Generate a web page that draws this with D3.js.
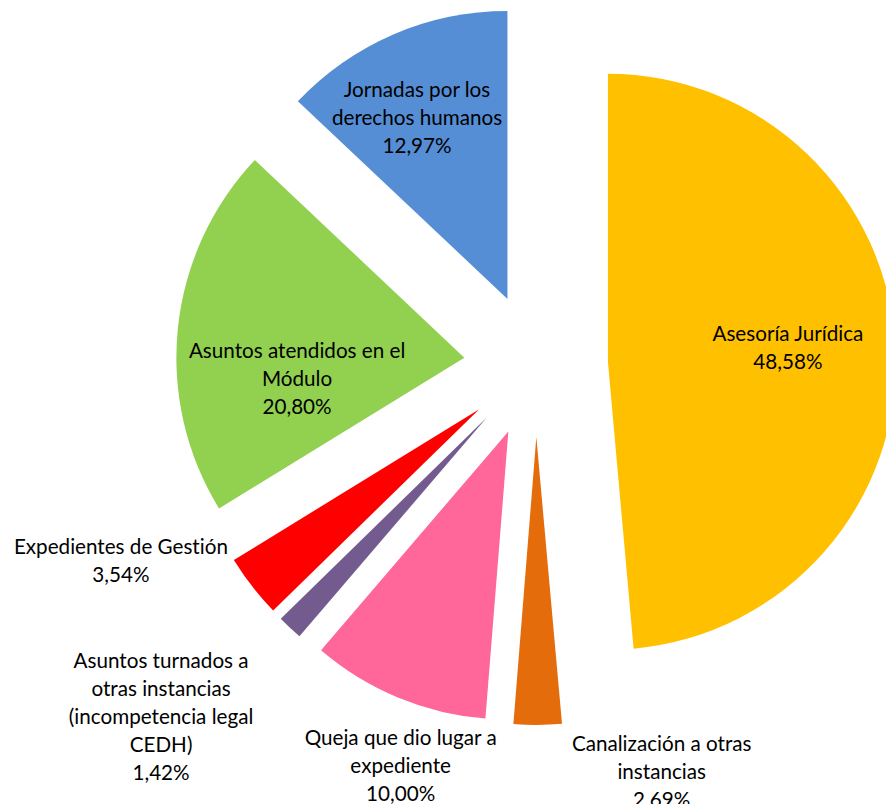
<!DOCTYPE html>
<html lang='es'>
  <head>
    <meta charset='utf-8'>
    <title>Servicios</title>
    <script type='text/javascript' src='https://cdn.jsdelivr.net/npm/d3@7/dist/d3.min.js'></script>
    <style type='text/css'>
      body { margin: 0; background: white; }
      svg { display: block; background-color: white; }
      .label {
        font-family: Lato, 'Open Sans', sans-serif;
        font-variant-ligatures: none;
        font-feature-settings: "liga" 0, "clig" 0;
        fill: #000;
      }
    </style>
  </head>
  <body>
    <div id='chart'></div>
    <script type='text/javascript'>

    // Data (clockwise from 12 o'clock)
    var categories = [
      'Asesoría Jurídica',
      'Canalización a otras\ninstancias',
      'Queja que dio lugar a\nexpediente',
      'Asuntos turnados a\notras instancias\n(incompetencia legal\nCEDH)',
      'Expedientes de Gestión',
      'Asuntos atendidos en el\nMódulo',
      'Jornadas por los\nderechos humanos'
    ];
    var values = [48.58, 2.69, 10.00, 1.42, 3.54, 20.80, 12.97];
    var valueLabels = ['48,58%', '2.69%', '10,00%', '1,42%', '3,54%', '20,80%', '12,97%'];
    var colors = ['#FFC000', '#E46C0A', '#FF6699', '#735B90', '#FF0000', '#92D050', '#558ED5'];

    // label placement relative to each exploded slice: [angle in degrees, radius factor]
    var labelAngle  = [85.3, 159.45, 197.9, 227.5, 247.25, 263.2, 333.5];
    var labelRadius = [0.627, 1.240, 1.217, 1.534, 1.349, 0.585, 0.704];

    // Dimensions
    var width = 886, height = 804;
    var cx = 536, cy = 365, radius = 288, explode = 72;
    var lineHeight = 28;

    var svg = d3.select('#chart')
        .append('svg')
        .attr('width', width)
        .attr('height', height);

    var g = svg.append('g')
        .attr('transform', 'translate(' + cx + ',' + cy + ')');

    var pie = d3.pie().sort(null).value(function(d) { return d; });
    var arcs = pie(values);

    var arc = d3.arc().innerRadius(0).outerRadius(radius);

    function offset(a, dist) {
      return [Math.sin(a) * dist, -Math.cos(a) * dist];
    }

    // slices
    g.selectAll('path')
      .data(arcs)
      .enter()
      .append('path')
      .attr('d', arc)
      .attr('fill', function(d, i) { return colors[i]; })
      .attr('transform', function(d) {
        var o = offset((d.startAngle + d.endAngle) / 2, explode);
        return 'translate(' + o[0] + ',' + o[1] + ')';
      });

    // font size chosen so text width matches the original
    var probe = svg.append('text').attr('class', 'label').style('font-size', '20px').text('Asesoría Jurídica');
    var fontSize = 20 * 151 / probe.node().getComputedTextLength();
    probe.remove();

    // labels
    var labels = g.selectAll('text.label')
      .data(arcs)
      .enter()
      .append('text')
      .attr('class', 'label')
      .style('font-size', fontSize + 'px')
      .attr('text-anchor', 'middle')
      .attr('transform', function(d, i) {
        var o = offset((d.startAngle + d.endAngle) / 2, explode);
        var p = offset(labelAngle[i] * Math.PI / 180, labelRadius[i] * radius);
        return 'translate(' + (o[0] + p[0]) + ',' + (o[1] + p[1]) + ')';
      });

    labels.each(function(d, i) {
      var lines = categories[i].split('\n').concat([valueLabels[i]]);
      var t = d3.select(this);
      lines.forEach(function(line, k) {
        t.append('tspan')
          .attr('x', 0)
          .attr('y', (k - (lines.length - 1) / 2) * lineHeight)
          .attr('dominant-baseline', 'central')
          .text(line);
      });
    });

    </script>
  </body>
</html>
